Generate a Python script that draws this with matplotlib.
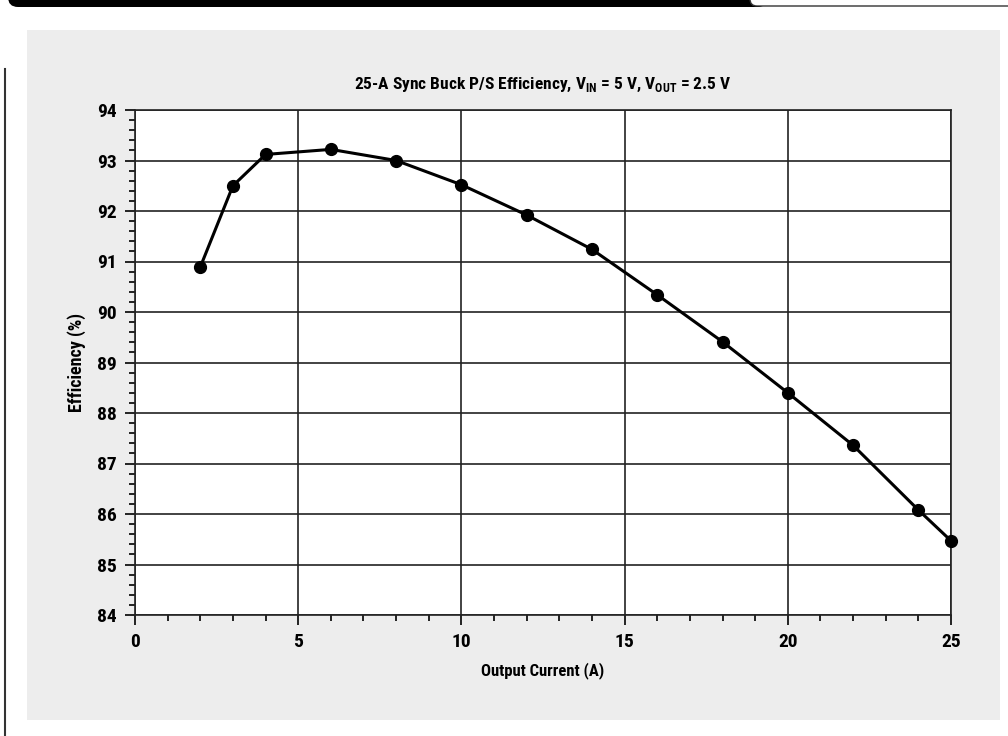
import numpy as np
import matplotlib.pyplot as plt
from matplotlib.patches import FancyBboxPatch, Rectangle
from matplotlib.ticker import MultipleLocator

current = [2, 3, 4, 6, 8, 10, 12, 14, 16, 18, 20, 22, 24, 25]
efficiency = [90.89, 92.5, 93.12, 93.22, 93.0, 92.52, 91.92, 91.24, 90.34, 89.41, 88.4, 87.36, 86.08, 85.47]
xticks = [0, 5, 10, 15, 20, 25]
yticks = [84, 85, 86, 87, 88, 89, 90, 91, 92, 93, 94]

plt.rcParams['font.family'] = ['Roboto Condensed', 'Liberation Sans Narrow', 'Roboto', 'DejaVu Sans']
plt.rcParams['font.weight'] = 'bold'
plt.rcParams['mathtext.fontset'] = 'custom'
plt.rcParams['mathtext.rm'] = 'Roboto Condensed:bold'
plt.rcParams['mathtext.bf'] = 'Roboto Condensed:bold'

W, H = 1008, 736
fig = plt.figure(figsize=(W / 100, H / 100), dpi=100)
fig.patch.set_facecolor('white')

# background decoration in pixel coordinates
bg = fig.add_axes([0, 0, 1, 1])
bg.set_xlim(0, W)
bg.set_ylim(H, 0)
bg.axis('off')
bg.add_patch(Rectangle((27, 30), 973, 690, facecolor='#ededed', edgecolor='none'))
bg.add_patch(FancyBboxPatch((8, -30), 760, 37, boxstyle='round,pad=0,rounding_size=10',
                            facecolor='black', edgecolor='none'))
bg.add_patch(FancyBboxPatch((750, -30), 300, 36, boxstyle='round,pad=0,rounding_size=7',
                            facecolor='white', edgecolor='#333333', lw=1.0))
bg.plot([5, 5], [69, H], color='#333333', lw=1.5)

left, right, top, bottom = 135, 951, 110, 615
ax = fig.add_axes([left / W, (H - bottom) / H, (right - left) / W, (bottom - top) / H])
ax.set_facecolor('white')

ax.plot(current, efficiency, color='black', lw=2.2, marker='o', markersize=8.5, zorder=3, clip_on=False)

ax.set_xlim(0, 25)
ax.set_ylim(84, 94)
ax.set_xticks(xticks)
ax.set_yticks(yticks)
ax.xaxis.set_minor_locator(MultipleLocator(1))
ax.yaxis.set_minor_locator(MultipleLocator(0.2))
ax.grid(True, which='major', color='#222222', lw=1.2)
ax.tick_params(which='major', direction='out', length=7, width=1.2, labelsize=14, pad=6)
ax.tick_params(which='minor', direction='out', length=4, width=1.2)
for s in ax.spines.values():
    s.set_linewidth(1.2)
    s.set_color('#222222')
for lab in ax.get_xticklabels() + ax.get_yticklabels():
    lab.set_fontweight('bold')

ax.set_xlabel('Output Current (A)', fontsize=12, fontweight='bold', labelpad=8)
ax.set_ylabel('Efficiency (%)', fontsize=13, fontweight='bold', labelpad=8)
ax.set_title(r'25-A Sync Buck P/S Efficiency, V$_{\mathrm{IN}}$ = 5 V, V$_{\mathrm{OUT}}$ = 2.5 V',
             fontsize=12.5, fontweight='bold', pad=15)

fig.savefig('out.png', dpi=100)
